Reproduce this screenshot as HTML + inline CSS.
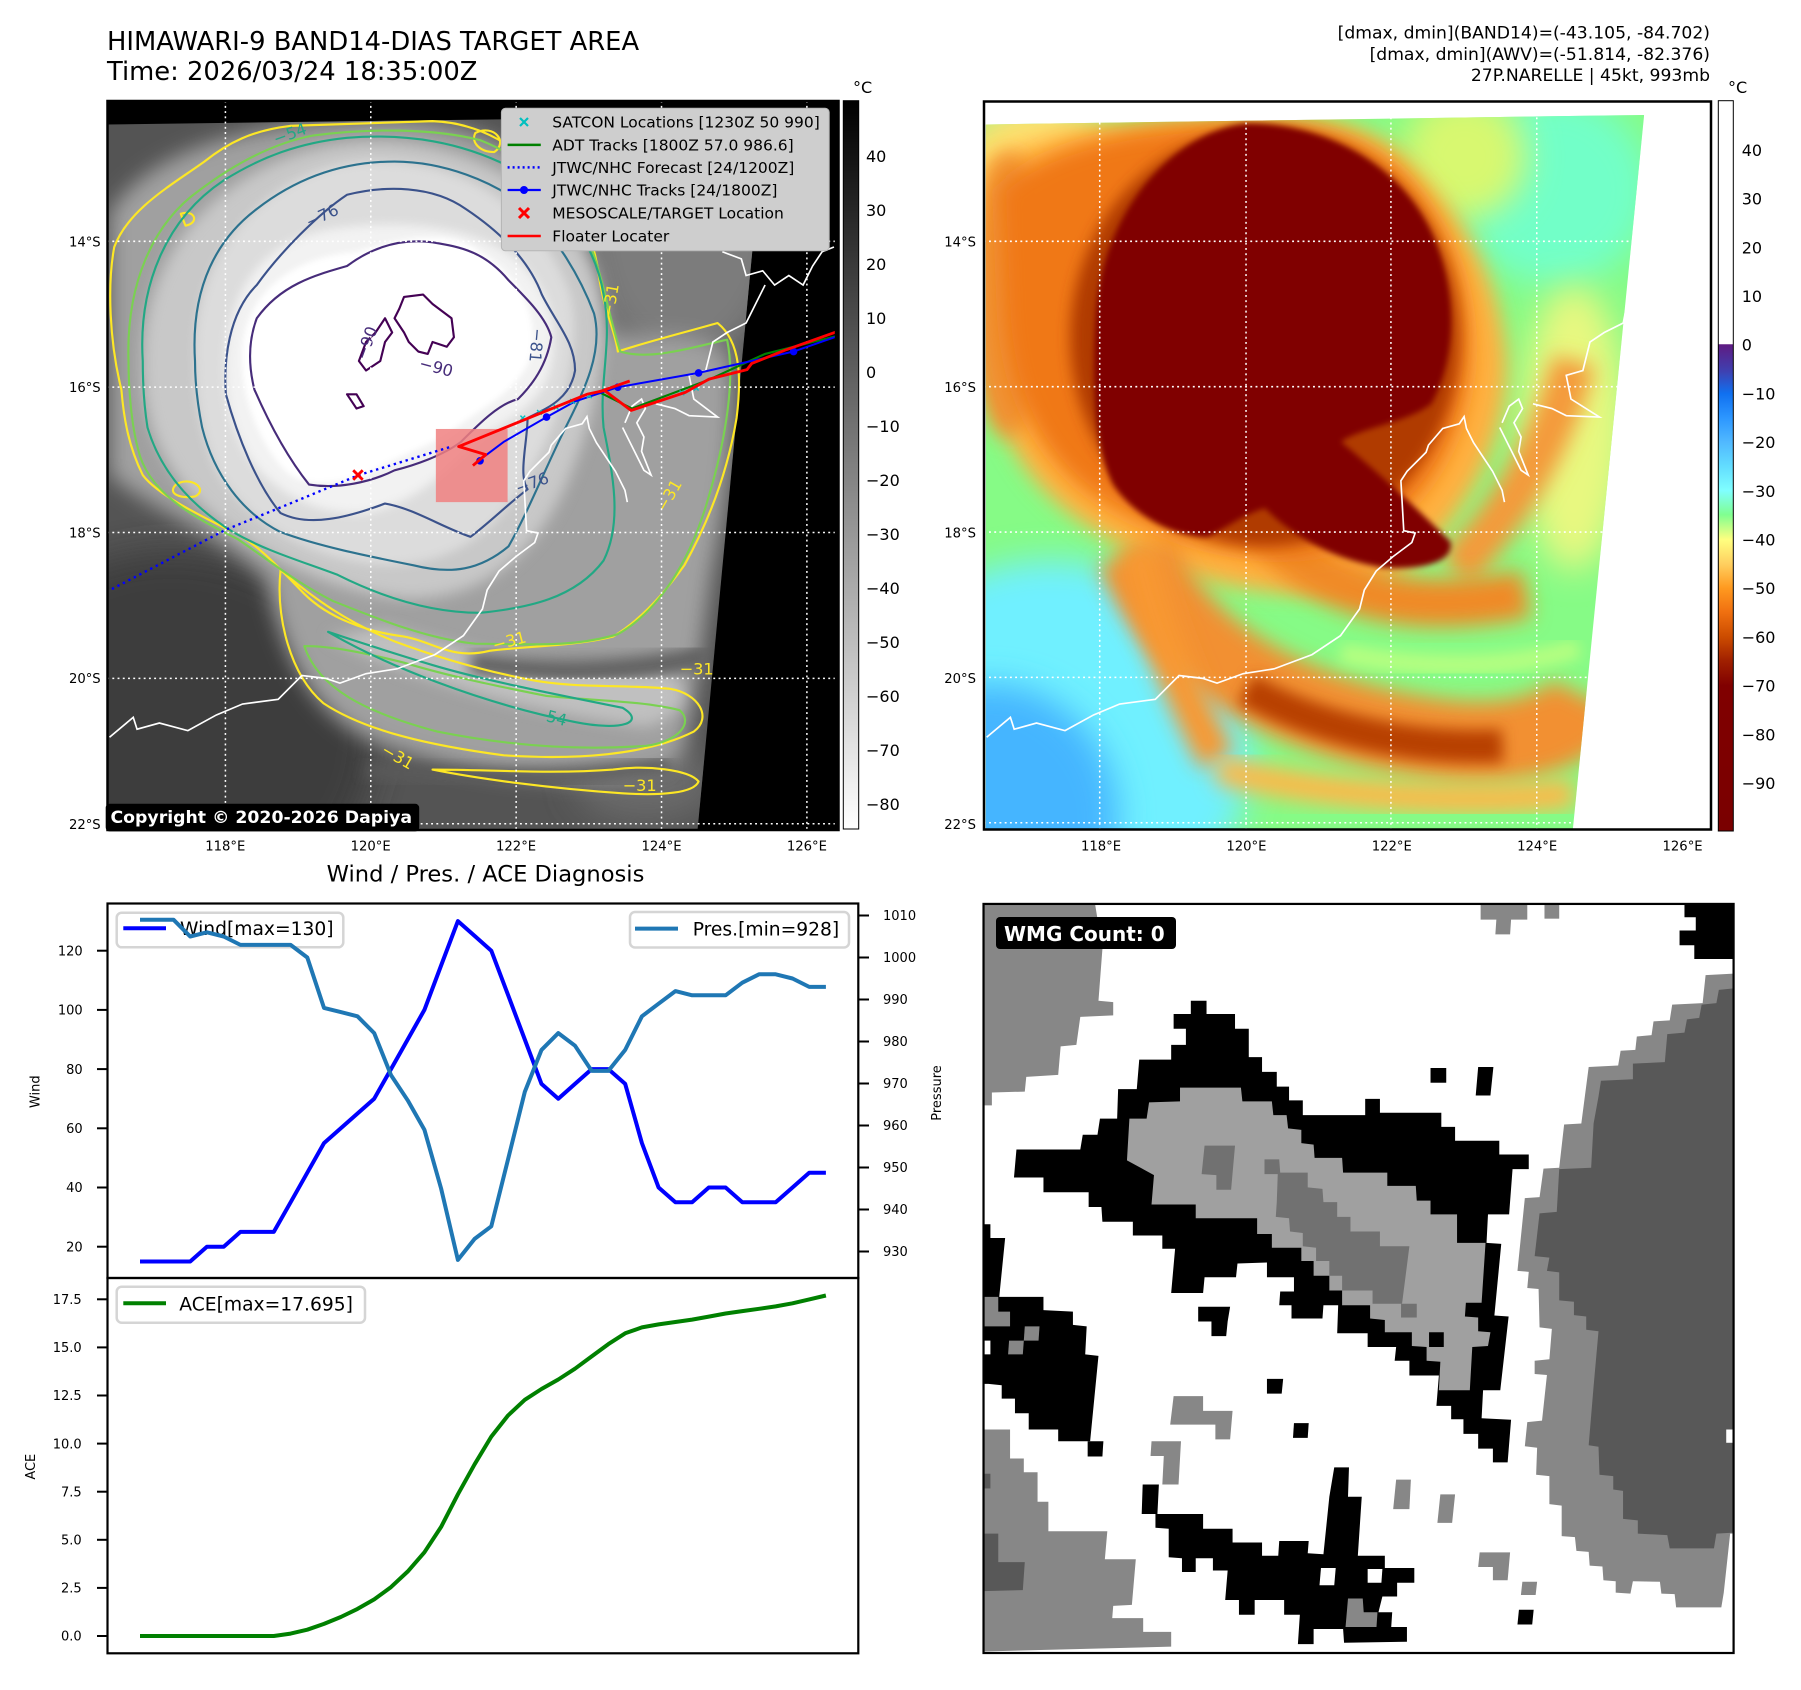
<!DOCTYPE html>
<html><head><meta charset="utf-8"><style>
html,body{margin:0;padding:0;background:#fff;}
svg{display:block;}
text{font-family:"DejaVu Sans","Liberation Sans",sans-serif;}
</style></head><body>
<svg width="1801" height="1690" viewBox="0 0 1801 1690" xmlns="http://www.w3.org/2000/svg">
<defs>
<filter id="f6" x="-50%" y="-50%" width="200%" height="200%"><feGaussianBlur stdDeviation="6"/></filter>
<filter id="f10" x="-50%" y="-50%" width="200%" height="200%"><feGaussianBlur stdDeviation="10"/></filter>
<filter id="f15" x="-50%" y="-50%" width="200%" height="200%"><feGaussianBlur stdDeviation="15"/></filter>
<filter id="f22" x="-50%" y="-50%" width="200%" height="200%"><feGaussianBlur stdDeviation="22"/></filter>
<filter id="f35" x="-50%" y="-50%" width="200%" height="200%"><feGaussianBlur stdDeviation="35"/></filter>
<linearGradient id="cb1" x1="0" y1="0" x2="0" y2="1"><stop offset="0" stop-color="#000"/><stop offset="1" stop-color="#fff"/></linearGradient>
<linearGradient id="cb2" x1="0" y1="0" x2="0" y2="1">
<stop offset="0" stop-color="#fff"/><stop offset="0.333" stop-color="#fff"/><stop offset="0.334" stop-color="#5f1b82"/><stop offset="0.37" stop-color="#3f40b0"/><stop offset="0.401" stop-color="#1070f0"/><stop offset="0.434" stop-color="#2c96ff"/><stop offset="0.467" stop-color="#50b8ff"/><stop offset="0.50" stop-color="#62dcff"/><stop offset="0.534" stop-color="#80ffff"/><stop offset="0.567" stop-color="#80ff90"/><stop offset="0.601" stop-color="#ffff80"/><stop offset="0.634" stop-color="#ffd060"/><stop offset="0.667" stop-color="#ff9a20"/><stop offset="0.70" stop-color="#f07010"/><stop offset="0.734" stop-color="#cc4c00"/><stop offset="0.767" stop-color="#a02000"/><stop offset="0.801" stop-color="#800000"/><stop offset="1" stop-color="#7a0000"/>
</linearGradient>
<clipPath id="ax1"><rect x="14.7" y="12" width="1532" height="1533"/></clipPath>
<clipPath id="img1"><polygon points="16.8,62 1400,44 1258,1545 16.8,1545"/></clipPath>
<clipPath id="ax2"><rect x="8" y="14" width="1530" height="1531"/></clipPath>
<clipPath id="img2"><polygon points="12,62 1398,42 1248,1545 12,1545"/></clipPath>
</defs>
<rect x="0" y="0" width="1801" height="1690" fill="#fff"/>

<!-- Titles -->
<text x="107" y="50" font-size="25.8" fill="#000">HIMAWARI-9 BAND14-DIAS TARGET AREA</text>
<text x="107" y="80" font-size="25.8" fill="#000">Time: 2026/03/24 18:35:00Z</text>
<text x="1710" y="38.5" font-size="17.2" text-anchor="end">[dmax, dmin](BAND14)=(-43.105, -84.702)</text>
<text x="1710" y="60" font-size="17.2" text-anchor="end">[dmax, dmin](AWV)=(-51.814, -82.376)</text>
<text x="1710" y="81" font-size="17.2" text-anchor="end">27P.NARELLE | 45kt, 993mb</text>

<!-- ================= MAP 1 ================= -->
<rect x="107.5" y="101" width="731" height="729" fill="#000"/>
<g transform="translate(100,95) scale(0.47506)">
<g clip-path="url(#ax1)">
<g clip-path="url(#img1)">
<rect x="0" y="0" width="1600" height="1600" fill="#545454"/>
<ellipse cx="150" cy="1350" rx="430" ry="390" fill="#3c3c3c" filter="url(#f35)"/>
<ellipse cx="1230" cy="290" rx="210" ry="280" fill="#7c7c7c" filter="url(#f35)"/>
<ellipse cx="1150" cy="1450" rx="150" ry="80" fill="#6a6a6a" filter="url(#f35)"/>
<path d="M 20,250 C 100,120 300,55 600,50 C 800,50 930,130 1000,250 C 1040,330 1050,420 1080,500 C 1150,520 1280,480 1330,560 C 1340,700 1320,850 1290,1000 C 1260,1200 1250,1330 1220,1400 C 1100,1470 800,1440 600,1370 C 430,1310 380,1150 350,1020 C 250,920 100,870 20,800 Z" fill="#a0a0a0" filter="url(#f22)"/>
<path d="M 480,1140 C 650,1230 900,1300 1150,1330 C 1240,1300 1250,1250 1200,1220 C 1000,1220 800,1180 600,1120 Z" fill="#c0c0c0" filter="url(#f15)"/>
<path d="M 90,560 C 90,300 300,110 560,100 C 800,95 980,220 1040,380 C 1080,500 1050,650 990,800 C 930,950 820,1060 650,1060 C 480,1050 300,950 200,850 C 120,760 90,680 90,560 Z" fill="#c8c8c8" filter="url(#f15)"/>
<path d="M 780,1195 C 950,1220 1100,1220 1280,1180" fill="none" stroke="#5e5e5e" stroke-width="45" filter="url(#f15)"/>
<path d="M 560,1420 C 800,1450 1000,1440 1200,1410" fill="none" stroke="#5a5a5a" stroke-width="35" filter="url(#f15)"/>
<path d="M 200,560 C 190,330 360,150 560,140 C 780,135 930,250 990,420 C 1020,550 960,700 900,800 C 840,920 740,990 600,990 C 450,980 300,900 240,780 C 210,700 200,640 200,560 Z" fill="#dcdcdc" filter="url(#f10)"/>
<path d="M 265,620 C 250,420 340,300 500,280 C 650,260 800,280 880,350 C 960,420 970,520 940,600 C 900,680 820,700 780,740 C 720,800 660,860 560,880 C 450,890 340,820 300,740 C 275,690 268,660 265,620 Z" fill="#f2f2f2" filter="url(#f10)"/>
<path d="M 300,520 C 320,400 420,340 540,330 C 640,300 740,280 800,330 C 880,380 920,450 910,540 C 890,620 800,660 750,700 C 700,740 620,760 560,800 C 480,820 420,830 380,780 C 330,720 290,620 300,520 Z" fill="#fff" filter="url(#f6)"/>
</g>
<!-- contours -->
<g fill="none" stroke-width="4.5" stroke-linejoin="round">
<path stroke="#fde725" d="M 45,620 C 20,520 15,400 30,320 C 60,240 150,190 220,140 C 270,100 320,75 400,65 L 700,55 C 800,58 880,110 950,180 C 1010,240 1040,300 1050,380 C 1060,450 1085,500 1090,540 C 1150,520 1230,500 1300,480 C 1350,520 1350,600 1340,680 C 1320,800 1280,900 1230,990 C 1180,1060 1130,1110 1080,1140 C 1000,1160 900,1160 820,1170 C 740,1190 700,1150 640,1140 C 560,1130 480,1100 430,1050 C 380,1000 340,950 280,920 C 200,880 120,840 90,800 C 60,740 50,680 45,620 Z"/>
<path stroke="#fde725" d="M 380,1000 C 370,1100 400,1220 470,1280 C 560,1340 700,1370 850,1390 C 1000,1400 1150,1390 1250,1340 C 1290,1310 1260,1260 1200,1250 C 1100,1240 1000,1250 900,1230 C 800,1210 700,1180 620,1150 C 520,1110 450,1060 380,1000 Z"/>
<path stroke="#fde725" d="M 700,1420 C 800,1440 950,1460 1100,1470 C 1180,1475 1250,1470 1260,1445 C 1240,1420 1150,1410 1080,1420 C 950,1430 820,1420 700,1420 Z"/>
<path stroke="#fde725" d="M 160,820 C 190,800 230,830 200,845 C 170,850 140,840 160,820 Z M 170,250 C 200,240 210,270 180,275 Z M 790,80 C 830,60 860,100 830,120 C 800,120 780,100 790,80 Z"/>
<path stroke="#7ad151" d="M 60,560 C 55,400 110,270 210,200 C 290,140 370,100 450,85 C 570,70 700,70 800,95 C 900,135 990,210 1030,310 C 1060,390 1070,460 1095,540 C 1160,560 1250,530 1320,515 C 1340,610 1310,750 1280,850 C 1240,990 1170,1090 1090,1135 C 990,1165 890,1155 790,1155 C 690,1145 590,1105 490,1065 C 410,1025 350,975 290,935 C 190,885 100,835 80,745 C 65,690 60,610 60,560 Z"/>
<path stroke="#7ad151" d="M 430,1160 C 460,1250 560,1300 710,1340 C 860,1370 1010,1380 1150,1370 C 1220,1360 1250,1320 1220,1295 C 1140,1275 1040,1275 940,1265 C 840,1245 740,1225 640,1195 C 560,1175 490,1160 430,1160 Z"/>
<path stroke="#22a884" d="M 90,560 C 80,400 140,260 260,180 C 340,130 420,100 520,90 C 650,80 760,100 860,150 C 960,210 1040,300 1060,420 C 1080,520 1050,600 1060,700 C 1080,800 1100,900 1060,980 C 1000,1060 900,1080 800,1090 C 700,1090 600,1060 500,1010 C 420,980 350,960 280,920 C 200,870 130,800 100,700 C 92,650 90,600 90,560 Z"/>
<path stroke="#22a884" d="M 480,1130 C 600,1200 800,1280 1000,1320 C 1100,1340 1150,1320 1100,1290 C 950,1260 800,1230 700,1200 C 600,1170 540,1150 480,1130 Z"/>
<path stroke="#2c728e" d="M 200,560 C 190,400 250,300 330,240 C 420,170 520,140 620,140 C 720,140 830,180 900,240 C 960,300 1010,380 1040,460 C 1060,540 1020,620 980,700 C 940,780 900,880 860,950 C 800,1000 740,1010 660,990 C 560,970 460,950 380,920 C 300,880 240,800 215,700 C 205,650 200,600 200,560 Z"/>
<path stroke="#3b528b" d="M 265,630 C 260,560 270,460 330,400 C 380,330 460,250 520,210 C 600,190 700,190 770,240 C 830,280 900,340 930,420 C 960,480 1000,520 1000,580 C 990,640 940,660 900,680 C 900,730 880,800 900,830 C 860,860 820,900 780,930 C 720,910 660,870 600,860 C 520,890 440,910 380,880 C 330,820 290,720 265,630 Z"/>
<path stroke="#472c7a" d="M 330,470 C 380,400 450,380 520,360 C 560,330 620,300 700,310 C 760,320 810,330 860,390 C 900,430 940,470 950,510 C 940,570 910,610 880,640 C 840,650 800,690 760,730 C 720,760 660,780 620,790 C 570,815 500,830 440,820 C 400,770 360,700 325,620 C 310,560 315,510 330,470 Z"/>
<path stroke="#440154" d="M 640,425 L 680,420 700,440 740,470 745,510 730,530 700,520 690,545 670,540 650,520 640,500 620,470 630,450 Z M 600,470 L 615,500 600,520 590,560 560,580 545,560 560,520 580,500 Z M 520,630 L 540,630 555,655 540,660 Z"/>
</g>
<g font-size="34" font-family="DejaVu Sans, sans-serif">
<text x="370" y="105" fill="#22a884" transform="rotate(-20 370 105)">−54</text>
<text x="440" y="280" fill="#3b528b" transform="rotate(-25 440 280)">−76</text>
<text x="670" y="575" fill="#472c7a" transform="rotate(15 670 575)">−90</text>
<text x="560" y="560" fill="#472c7a" transform="rotate(-70 560 560)">−90</text>
<text x="910" y="490" fill="#3b528b" transform="rotate(95 910 490)">−81</text>
<text x="1080" y="470" fill="#fde725" transform="rotate(-80 1080 470)">−31</text>
<text x="1190" y="880" fill="#fde725" transform="rotate(-60 1190 880)">−31</text>
<text x="830" y="1170" fill="#fde725" transform="rotate(-15 830 1170)">−31</text>
<text x="1220" y="1220" fill="#fde725">−31</text>
<text x="910" y="1310" fill="#22a884" transform="rotate(15 910 1310)">−54</text>
<text x="590" y="1385" fill="#fde725" transform="rotate(30 590 1385)">−31</text>
<text x="1100" y="1465" fill="#fde725">−31</text>
<text x="880" y="840" fill="#3b528b" transform="rotate(-20 880 840)">−76</text>
</g>
<!-- coastline -->
<g fill="none" stroke="#fff" stroke-width="3.5">
<polyline points="20,1352 70,1310 78,1335 125,1322 185,1338 245,1305 300,1282 375,1272 425,1222 475,1228 505,1238 560,1218 625,1208 705,1178 765,1138 805,1082 815,1042 840,1002 875,972 915,942 922,922 898,917 892,812 905,792 945,752 950,737 980,702 1015,692 1025,677 1030,702 1045,732 1065,762 1085,792 1105,832 1110,857"/>
<polyline points="1105,690 1120,655 1140,640 1148,660 1130,690 1145,720 1140,750 1160,800 1145,790 1120,740 1100,700"/>
<polyline points="1170,650 1210,660 1240,675 1300,678 1250,640 1240,590 1275,580 1290,520 1320,500 1360,480 1380,440 1400,400"/>
<polyline points="1310,330 1350,345 1360,380 1395,370 1420,400 1450,380 1480,400 1500,360 1520,330 1545,320"/>
</g>
<!-- gridlines -->
<g stroke="#fff" stroke-width="3.2" stroke-dasharray="4 7">
<line x1="264" y1="12" x2="264" y2="1545"/><line x1="570" y1="12" x2="570" y2="1545"/><line x1="876" y1="12" x2="876" y2="1545"/><line x1="1182" y1="12" x2="1182" y2="1545"/><line x1="1488" y1="12" x2="1488" y2="1545"/>
<line x1="15" y1="308" x2="1547" y2="308"/><line x1="15" y1="615" x2="1547" y2="615"/><line x1="15" y1="921" x2="1547" y2="921"/><line x1="15" y1="1228" x2="1547" y2="1228"/><line x1="15" y1="1534" x2="1547" y2="1534"/>
</g>
<!-- pink target rect -->
<rect x="707" y="703" width="151" height="154" fill="#f08080" opacity="0.85"/>
<!-- tracks -->
<polyline points="25,1040 265,915 400,860 545,800 740,740" fill="none" stroke="#0000ff" stroke-width="5" stroke-dasharray="5 8"/>
<polyline points="1050,625 1120,660 1200,630 1280,600 1400,545 1560,505" fill="none" stroke="#008000" stroke-width="4.5"/>
<polyline points="790,775 850,730 940,678 1000,645 1090,615 1260,585 1460,540 1560,505" fill="none" stroke="#0000ff" stroke-width="4.2"/>
<g fill="#0000ff"><circle cx="800" cy="770" r="8"/><circle cx="940" cy="678" r="8"/><circle cx="1090" cy="615" r="8"/><circle cx="1260" cy="585" r="8"/><circle cx="1460" cy="540" r="8"/></g>
<g stroke="#00bfbf" stroke-width="3">
<path d="M 885,675 l 10,10 m 0,-10 l -10,10 M 920,663 l 10,10 m 0,-10 l -10,10 M 955,652 l 10,10 m 0,-10 l -10,10 M 990,640 l 10,10 m 0,-10 l -10,10 M 1025,628 l 10,10 m 0,-10 l -10,10 M 1220,622 l 10,10 m 0,-10 l -10,10 M 1250,612 l 10,10 m 0,-10 l -10,10"/>
</g>
<polyline points="785,780 812,757 755,740 1025,630 1062,622 1118,664 1232,626 1282,598 1362,578 1372,565 1415,548 1440,538 1560,495" fill="none" stroke="#ff0000" stroke-width="6" stroke-linejoin="round"/>
<line x1="1050" y1="625" x2="1115" y2="602" stroke="#ff0000" stroke-width="6"/>
<path d="M 533,790 l 20,20 m 0,-20 l -20,20" stroke="#ff0000" stroke-width="6"/>
</g>
</g>
<rect x="107.5" y="101" width="731" height="729" fill="none" stroke="#000" stroke-width="2.5"/>
<!-- legend map1 -->
<rect x="501.4" y="108.3" width="327.8" height="142.5" rx="4" fill="#cecece" stroke="#b5b5b5" stroke-width="1"/>
<path d="M 520,118 l 8,8 m 0,-8 l -8,8" stroke="#00bfbf" stroke-width="2.2"/>
<line x1="507.6" y1="144.9" x2="540.8" y2="144.9" stroke="#008000" stroke-width="2.5"/>
<line x1="507.6" y1="167.4" x2="540.8" y2="167.4" stroke="#0000ff" stroke-width="2.5" stroke-dasharray="2 3"/>
<line x1="507.6" y1="190" x2="540.8" y2="190" stroke="#0000ff" stroke-width="2.2"/><circle cx="524" cy="190" r="4" fill="#0000ff"/>
<path d="M 519,208 l 10,10 m 0,-10 l -10,10" stroke="#ff0000" stroke-width="3"/>
<line x1="507.6" y1="236" x2="540.8" y2="236" stroke="#ff0000" stroke-width="2.5"/>
<g font-size="15.5" fill="#000">
<text x="552.3" y="127.6">SATCON Locations [1230Z 50 990]</text>
<text x="552.3" y="150.4">ADT Tracks [1800Z 57.0 986.6]</text>
<text x="552.3" y="172.9">JTWC/NHC Forecast [24/1200Z]</text>
<text x="552.3" y="195.5">JTWC/NHC Tracks [24/1800Z]</text>
<text x="552.3" y="218.3">MESOSCALE/TARGET Location</text>
<text x="552.3" y="241.6">Floater Locater</text>
</g>
<!-- copyright -->
<rect x="105.7" y="803.8" width="313.5" height="27.6" rx="4" fill="#000"/>
<text x="110.5" y="823.2" font-size="17.3" font-weight="bold" fill="#fff">Copyright © 2020-2026 Dapiya</text>
<!-- map ticks -->
<g font-size="13.2" fill="#000" text-anchor="end">
<text x="100.7" y="246.4">14°S</text><text x="100.7" y="392">16°S</text><text x="100.7" y="537.6">18°S</text><text x="100.7" y="683.2">20°S</text><text x="100.7" y="828.8">22°S</text>
<text x="976" y="246.4">14°S</text><text x="976" y="392">16°S</text><text x="976" y="537.6">18°S</text><text x="976" y="683.2">20°S</text><text x="976" y="828.8">22°S</text>
</g>
<g font-size="13.2" fill="#000" text-anchor="middle">
<text x="225.3" y="850.7">118°E</text><text x="370.7" y="850.7">120°E</text><text x="516.1" y="850.7">122°E</text><text x="661.5" y="850.7">124°E</text><text x="806.9" y="850.7">126°E</text>
<text x="1101" y="850.7">118°E</text><text x="1246.4" y="850.7">120°E</text><text x="1391.8" y="850.7">122°E</text><text x="1537.2" y="850.7">124°E</text><text x="1682.6" y="850.7">126°E</text>
</g>
<!-- colorbar 1 -->
<rect x="843.3" y="100.7" width="15.4" height="728.3" fill="url(#cb1)" stroke="#000" stroke-width="1"/>
<text x="853" y="93" font-size="16">°C</text>
<g font-size="16" fill="#000">
<text x="866" y="161.8">40</text><text x="866" y="215.8">30</text><text x="866" y="269.8">20</text><text x="866" y="323.8">10</text><text x="866" y="377.8">0</text>
<text x="866" y="431.8">−10</text><text x="866" y="485.8">−20</text><text x="866" y="539.8">−30</text><text x="866" y="593.8">−40</text><text x="866" y="647.8">−50</text><text x="866" y="701.8">−60</text><text x="866" y="755.8">−70</text><text x="866" y="809.8">−80</text>
</g>

<!-- ================= MAP 2 ================= -->
<rect x="984" y="101.5" width="727" height="728" fill="#fff"/>
<g transform="translate(980,95) scale(0.47506)">
<g clip-path="url(#ax2)">
<g clip-path="url(#img2)">
<rect x="0" y="0" width="1600" height="1600" fill="#86fb86"/>
<ellipse cx="150" cy="1380" rx="420" ry="400" fill="#6ff0ff" filter="url(#f35)"/>
<ellipse cx="20" cy="1520" rx="270" ry="280" fill="#45b5ff" filter="url(#f35)"/>
<ellipse cx="1210" cy="200" rx="200" ry="200" fill="#72ffc8" filter="url(#f35)"/>
<ellipse cx="1250" cy="700" rx="110" ry="300" fill="#e8f880" filter="url(#f35)"/>
<ellipse cx="120" cy="230" rx="200" ry="220" fill="#ffe070" filter="url(#f35)"/>
<ellipse cx="1020" cy="130" rx="130" ry="130" fill="#d8f870" filter="url(#f35)"/>
<path d="M 12,150 C 150,60 400,40 600,45 C 760,45 860,80 920,160 C 1040,280 1100,420 1110,560 C 1110,760 1000,900 900,1000 C 750,1080 500,1060 300,950 C 100,850 12,700 12,500 Z" fill="#ffb040" filter="url(#f22)"/>
<ellipse cx="60" cy="420" rx="80" ry="300" fill="#f09030" filter="url(#f22)"/>
<path d="M 330,960 C 420,1200 700,1330 1000,1360 C 1150,1370 1250,1330 1280,1270" fill="none" stroke="#f29030" stroke-width="170" filter="url(#f22)"/>
<path d="M 330,950 C 360,1100 420,1250 500,1400" fill="none" stroke="#f89830" stroke-width="80" filter="url(#f22)"/>
<path d="M 500,1420 C 700,1470 1000,1500 1250,1470" fill="none" stroke="#ffb848" stroke-width="60" filter="url(#f22)"/>
<path d="M 760,1175 C 900,1205 1100,1215 1260,1165" fill="none" stroke="#b8ff80" stroke-width="40" filter="url(#f15)"/>
<path d="M 560,1250 C 700,1330 900,1380 1100,1370" fill="none" stroke="#b84000" stroke-width="70" filter="url(#f15)"/>
<path d="M 1000,1000 C 1100,900 1200,750 1250,560" fill="none" stroke="#f49a3a" stroke-width="90" filter="url(#f22)"/>
<path d="M 600,900 C 700,1050 900,1100 1150,1050" fill="none" stroke="#f08a28" stroke-width="100" filter="url(#f22)"/>
<path d="M 40,200 C 150,90 380,60 580,60 C 740,60 850,110 920,200 C 1010,320 1040,450 1030,580 C 1010,760 920,880 800,940 C 640,1000 450,960 300,880 C 140,800 60,650 50,460 Z" fill="#f07818" filter="url(#f22)"/>
<ellipse cx="600" cy="510" rx="410" ry="440" fill="#b03a00" filter="url(#f15)"/>
<path d="M 560,60 C 720,60 880,140 950,290 C 1010,420 1000,560 950,650 C 900,690 800,700 760,730 C 820,780 900,850 990,940 C 1000,980 940,1000 850,995 C 750,980 660,930 600,870 C 560,880 520,910 480,930 C 400,930 320,880 280,820 C 240,740 235,600 245,450 C 260,250 400,80 560,60 Z" fill="#800000" filter="url(#f6)"/>
</g>
<g fill="none" stroke="#fff" stroke-width="3.5">
<polyline points="14,1352 64,1310 72,1335 119,1322 179,1338 239,1305 294,1282 369,1272 419,1222 469,1228 499,1238 554,1218 619,1208 699,1178 759,1138 799,1082 809,1042 834,1002 869,972 909,942 916,922 892,917 886,812 899,792 939,752 944,737 974,702 1009,692 1019,677 1024,702 1039,732 1059,762 1079,792 1099,832 1104,857"/>
<polyline points="1099,690 1114,655 1134,640 1142,660 1124,690 1139,720 1134,750 1154,800 1139,790 1114,740 1094,700"/>
<polyline points="1164,650 1204,660 1234,675 1304,678 1244,640 1234,590 1269,580 1284,520 1314,500 1354,480 1370,400"/>
</g>
<g stroke="#fff" stroke-width="3.2" stroke-dasharray="4 7">
<line x1="252" y1="14" x2="252" y2="1545"/><line x1="560" y1="14" x2="560" y2="1545"/><line x1="865" y1="14" x2="865" y2="1545"/><line x1="1172" y1="14" x2="1172" y2="1545"/>
<line x1="8" y1="308" x2="1538" y2="308"/><line x1="8" y1="614" x2="1538" y2="614"/><line x1="8" y1="920" x2="1538" y2="920"/><line x1="8" y1="1226" x2="1538" y2="1226"/><line x1="8" y1="1532" x2="1538" y2="1532"/>
</g>
</g>
</g>
<rect x="984" y="101.5" width="727" height="728" fill="none" stroke="#000" stroke-width="2.5"/>
<!-- colorbar 2 -->
<rect x="1718.3" y="100.7" width="15" height="730.3" fill="url(#cb2)" stroke="#000" stroke-width="1"/>
<text x="1728" y="93" font-size="16">°C</text>
<g font-size="16" fill="#000">
<text x="1741.7" y="155.9">40</text><text x="1741.7" y="204.6">30</text><text x="1741.7" y="253.3">20</text><text x="1741.7" y="302">10</text><text x="1741.7" y="350.7">0</text>
<text x="1741.7" y="399.4">−10</text><text x="1741.7" y="448.1">−20</text><text x="1741.7" y="496.8">−30</text><text x="1741.7" y="545.5">−40</text><text x="1741.7" y="594.2">−50</text><text x="1741.7" y="642.9">−60</text><text x="1741.7" y="691.6">−70</text><text x="1741.7" y="740.3">−80</text><text x="1741.7" y="789">−90</text>
</g>

<!-- ================= CHARTS ================= -->
<text x="485.5" y="881.5" font-size="22.6" text-anchor="middle">Wind / Pres. / ACE Diagnosis</text>
<polyline fill="none" stroke="#0000ff" stroke-width="4" stroke-linejoin="round" points="140,1261.5 156.7,1261.5 173.5,1261.5 190.2,1261.5 206.9,1246.7 223.7,1246.7 240.4,1231.9 257.1,1231.9 273.8,1231.9 290.6,1202.3 307.3,1172.7 324,1143.1 340.8,1128.3 357.5,1113.5 374.2,1098.7 391,1069.1 407.7,1039.5 424.4,1009.9 441.1,965.5 457.9,921.1 474.6,935.9 491.3,950.7 508.1,995.1 524.8,1039.5 541.5,1083.9 558.3,1098.7 575,1083.9 591.7,1069.1 608.4,1069.1 625.2,1083.9 641.9,1143.1 658.6,1187.5 675.4,1202.3 692.1,1202.3 708.8,1187.5 725.6,1187.5 742.3,1202.3 759,1202.3 775.7,1202.3 792.5,1187.5 809.2,1172.7 825.9,1172.7"/>
<rect x="116.7" y="912.7" width="226.6" height="34.6" rx="5" fill="#fff" stroke="#d5d5d5" stroke-width="2.5"/>
<line x1="123.3" y1="928.3" x2="166" y2="928.3" stroke="#0000ff" stroke-width="4"/>
<text x="180" y="935" font-size="18.7">Wind[max=130]</text>
<polyline fill="none" stroke="#1f77b4" stroke-width="4" stroke-linejoin="round" points="140,919.7 156.7,919.7 173.5,919.7 190.2,936.5 206.9,932.3 223.7,936.5 240.4,944.9 257.1,944.9 273.8,944.9 290.6,944.9 307.3,957.5 324,1007.9 340.8,1012.1 357.5,1016.3 374.2,1033.1 391,1075.1 407.7,1100.3 424.4,1129.7 441.1,1188.5 457.9,1259.9 474.6,1238.9 491.3,1226.3 508.1,1159.1 524.8,1091.9 541.5,1049.9 558.3,1033.1 575,1045.7 591.7,1070.9 608.4,1070.9 625.2,1049.9 641.9,1016.3 658.6,1003.7 675.4,991.1 692.1,995.3 708.8,995.3 725.6,995.3 742.3,982.7 759,974.3 775.7,974.3 792.5,978.5 809.2,986.9 825.9,986.9"/>
<rect x="630" y="912" width="219" height="35.5" rx="5" fill="#fff" stroke="#d5d5d5" stroke-width="2.5"/>
<line x1="635" y1="928.6" x2="678" y2="928.6" stroke="#1f77b4" stroke-width="4"/>
<text x="692.7" y="935.4" font-size="18.7">Pres.[min=928]</text>
<rect x="107.5" y="903.5" width="750.8" height="374.5" fill="none" stroke="#000" stroke-width="2.2"/>
<g stroke="#000" stroke-width="2">
<line x1="97" y1="950.7" x2="107.5" y2="950.7"/><line x1="97" y1="1009.9" x2="107.5" y2="1009.9"/><line x1="97" y1="1069.1" x2="107.5" y2="1069.1"/><line x1="97" y1="1128.3" x2="107.5" y2="1128.3"/><line x1="97" y1="1187.5" x2="107.5" y2="1187.5"/><line x1="97" y1="1246.7" x2="107.5" y2="1246.7"/>
<line x1="858.3" y1="915.5" x2="869" y2="915.5"/><line x1="858.3" y1="957.5" x2="869" y2="957.5"/><line x1="858.3" y1="999.5" x2="869" y2="999.5"/><line x1="858.3" y1="1041.5" x2="869" y2="1041.5"/><line x1="858.3" y1="1083.5" x2="869" y2="1083.5"/><line x1="858.3" y1="1125.5" x2="869" y2="1125.5"/><line x1="858.3" y1="1167.5" x2="869" y2="1167.5"/><line x1="858.3" y1="1209.5" x2="869" y2="1209.5"/><line x1="858.3" y1="1251.5" x2="869" y2="1251.5"/>
<line x1="97" y1="1299.3" x2="107.5" y2="1299.3"/><line x1="97" y1="1347.4" x2="107.5" y2="1347.4"/><line x1="97" y1="1395.5" x2="107.5" y2="1395.5"/><line x1="97" y1="1443.6" x2="107.5" y2="1443.6"/><line x1="97" y1="1491.7" x2="107.5" y2="1491.7"/><line x1="97" y1="1539.8" x2="107.5" y2="1539.8"/><line x1="97" y1="1587.9" x2="107.5" y2="1587.9"/><line x1="97" y1="1636" x2="107.5" y2="1636"/>
</g>
<g font-size="13" text-anchor="end">
<text x="82.7" y="955.4">120</text><text x="82.7" y="1014.6">100</text><text x="82.7" y="1073.8">80</text><text x="82.7" y="1133">60</text><text x="82.7" y="1192.2">40</text><text x="82.7" y="1251.4">20</text>
<text x="81.7" y="1304">17.5</text><text x="81.7" y="1352.1">15.0</text><text x="81.7" y="1400.2">12.5</text><text x="81.7" y="1448.3">10.0</text><text x="81.7" y="1496.4">7.5</text><text x="81.7" y="1544.5">5.0</text><text x="81.7" y="1592.6">2.5</text><text x="81.7" y="1640.7">0.0</text>
</g>
<g font-size="13">
<text x="883" y="920.2">1010</text><text x="883" y="962.2">1000</text><text x="883" y="1004.2">990</text><text x="883" y="1046.2">980</text><text x="883" y="1088.2">970</text><text x="883" y="1130.2">960</text><text x="883" y="1172.2">950</text><text x="883" y="1214.2">940</text><text x="883" y="1256.2">930</text>
</g>
<text transform="translate(39.5,1091.7) rotate(-90)" font-size="13" text-anchor="middle">Wind</text>
<text transform="translate(35,1466.7) rotate(-90)" font-size="13" text-anchor="middle">ACE</text>
<text transform="translate(941,1093) rotate(-90)" font-size="13" text-anchor="middle">Pressure</text>
<polyline fill="none" stroke="#008000" stroke-width="4" stroke-linejoin="round" points="140,1636 156.7,1636 173.5,1636 190.2,1636 206.9,1636 223.7,1636 240.4,1636 257.1,1636 273.8,1636 290.6,1633.6 307.3,1629.7 324,1623.9 340.8,1617 357.5,1608.9 374.2,1599.4 391,1587.1 407.7,1571.5 424.4,1552.3 441.1,1526.9 457.9,1494.3 474.6,1464.3 491.3,1436.6 508.1,1415.4 524.8,1399.8 541.5,1389 558.3,1379.5 575,1368.7 591.7,1356.4 608.4,1344.1 625.2,1333.3 641.9,1327.4 658.6,1324.4 675.4,1322 692.1,1319.6 708.8,1316.6 725.6,1313.5 742.3,1311.1 759,1308.8 775.7,1306.4 792.5,1303.3 809.2,1299.4 825.9,1295.5"/>
<rect x="116.7" y="1286.7" width="248.3" height="36" rx="5" fill="#fff" stroke="#d5d5d5" stroke-width="2.5"/>
<line x1="123.3" y1="1303.3" x2="166" y2="1303.3" stroke="#008000" stroke-width="4"/>
<text x="179.3" y="1310.3" font-size="18.7">ACE[max=17.695]</text>
<rect x="107.5" y="1278" width="750.8" height="375.3" fill="none" stroke="#000" stroke-width="2.2"/>

<!-- ================= BOTTOM RIGHT ================= -->
<g transform="translate(979.6,900) scale(0.4912)">
<rect x="8" y="8" width="1527" height="1525" fill="#fff"/>
<g fill="#878787">
<polygon points="8,8 235,8 250,100 242,205 272,208 272,235 205,238 197,295 165,298 160,356 95,360 92,390 25,392 25,418 8,418"/>
<polygon points="1020,8 1115,8 1115,40 1082,40 1080,70 1050,70 1052,40 1020,40"/>
<polygon points="1150,8 1180,8 1180,38 1150,38"/>
<polygon points="1535,150 1478,153 1472,210 1410,213 1405,245 1372,247 1368,275 1338,278 1335,305 1305,307 1300,337 1240,340 1225,455 1190,457 1180,545 1148,547 1140,605 1110,607 1095,755 1118,757 1115,790 1138,792 1140,870 1165,873 1160,935 1130,938 1130,965 1155,967 1145,1060 1115,1063 1110,1112 1135,1115 1133,1170 1160,1173 1160,1230 1185,1233 1185,1295 1212,1297 1215,1325 1240,1327 1242,1355 1268,1357 1270,1385 1295,1387 1295,1410 1325,1412 1330,1387 1385,1388 1388,1412 1415,1413 1418,1440 1510,1440 1515,1410 1528,1290 1535,1290"/>
<polygon points="8,1078 62,1078 62,1137 90,1137 90,1165 118,1165 118,1225 140,1225 140,1285 260,1285 255,1342 318,1342 310,1435 272,1437 270,1462 333,1462 333,1490 390,1490 390,1520 8,1530"/>
<polygon points="395,1010 455,1010 455,1040 515,1040 510,1098 480,1098 480,1068 388,1068"/>
<polygon points="350,1102 410,1102 405,1190 372,1190 375,1132 348,1132"/>
<polygon points="848,1180 878,1180 875,1240 842,1240"/>
<polygon points="938,1210 968,1210 962,1268 932,1268"/>
<polygon points="1018,1328 1080,1328 1075,1385 1045,1385 1045,1358 1015,1358"/>
<polygon points="1105,1388 1135,1388 1132,1415 1102,1415"/>
</g>
<g fill="#585858">
<polygon points="1535,180 1505,183 1500,210 1470,213 1465,240 1440,243 1435,270 1400,273 1395,330 1330,333 1330,365 1265,368 1260,400 1250,455 1245,545 1180,548 1175,635 1140,638 1130,725 1160,728 1155,755 1180,758 1180,815 1210,818 1210,845 1235,848 1235,875 1260,878 1250,990 1240,1110 1260,1113 1262,1170 1290,1173 1290,1200 1310,1203 1310,1260 1340,1263 1340,1290 1400,1293 1405,1320 1495,1320 1500,1290 1535,1288"/>
<polygon points="8,1290 38,1290 38,1348 92,1348 88,1405 8,1407"/>
<polygon points="8,1168 22,1168 22,1198 8,1198"/>
</g>
<polygon points="1520,1078 1535,1078 1535,1105 1520,1105" fill="#fff"/>
<g fill="#000">
<polygon points="1435,8 1535,8 1535,120 1455,120 1455,92 1425,92 1425,62 1458,62 1458,35 1435,35"/>
<polygon points="430,205 462,205 462,232 520,232 520,262 548,262 548,320 575,320 575,350 605,350 605,380 630,380 630,408 658,408 658,438 785,438 785,405 815,405 815,433 940,433 940,462 968,462 968,490 1058,490 1058,518 1118,518 1118,548 1085,548 1078,640 1035,640 1032,698 1062,700 1048,846 1077,848 1060,998 1025,998 1022,1055 1082,1058 1075,1145 1045,1145 1045,1117 1015,1117 1015,1087 985,1087 985,1057 960,1057 960,1030 930,1030 935,968 875,968 875,938 845,938 848,910 790,910 790,882 728,882 730,825 700,825 698,852 635,852 635,825 610,825 612,797 640,797 640,768 585,768 585,738 525,740 522,768 458,768 455,800 390,800 398,710 372,710 372,683 312,683 312,655 250,655 248,625 222,625 222,595 130,595 130,565 70,565 75,508 205,508 210,478 240,478 245,445 280,445 282,385 320,385 325,325 390,325 390,295 420,295 420,262 395,262 395,232 430,232"/>
<polygon points="8,660 22,660 22,688 52,688 40,808 130,808 130,835 190,838 190,865 218,868 215,925 242,928 225,1102 160,1102 160,1078 100,1078 100,1045 72,1045 72,1015 45,1015 45,988 18,985 8,985"/>
<polygon points="918,342 950,342 950,372 918,372"/>
<polygon points="1015,340 1046,340 1040,398 1010,398"/>
<polygon points="445,828 510,828 505,858 502,888 472,888 472,858 445,858"/>
<polygon points="585,975 618,975 615,1005 585,1005"/>
<polygon points="640,1065 670,1065 668,1095 638,1095"/>
<polygon points="220,1102 252,1102 250,1133 220,1133"/>
<polygon points="1098,1445 1128,1445 1125,1475 1095,1475"/>
<polygon points="332,1190 365,1190 362,1250 455,1250 455,1280 515,1280 515,1308 575,1308 575,1335 608,1335 610,1305 670,1305 668,1330 700,1332 712,1215 722,1155 752,1155 750,1215 778,1215 770,1335 825,1335 825,1360 885,1360 885,1390 850,1390 850,1418 820,1418 812,1450 840,1450 838,1480 870,1480 870,1510 742,1512 740,1484 680,1484 680,1515 648,1515 652,1455 620,1455 620,1425 560,1425 560,1455 528,1455 528,1425 500,1425 505,1365 475,1365 475,1340 440,1340 440,1368 412,1368 412,1340 385,1338 385,1280 358,1278 358,1250 330,1250"/>
</g>
<g fill="#878787">
<polygon points="8,808 38,808 38,838 62,838 62,868 8,868"/>
<polygon points="92,868 122,868 120,897 90,897"/>
<polygon points="60,897 90,897 88,925 58,925"/>
<polygon points="750,1422 780,1422 782,1450 810,1450 808,1480 745,1480"/>
</g>
<g fill="#fff">
<polygon points="8,897 22,897 22,925 8,925"/>
<polygon points="790,1362 820,1362 818,1390 790,1390"/>
<polygon points="695,1360 725,1360 722,1395 692,1395"/>
</g>
<polygon fill="#a0a0a0" points="408,382 532,382 535,410 595,410 598,438 625,438 628,465 655,468 655,495 680,498 682,525 738,525 740,555 830,555 830,582 888,582 890,612 918,612 918,640 972,640 972,698 1030,698 1022,820 990,820 988,848 1015,850 1015,878 1040,880 1035,908 1003,910 998,998 935,998 938,940 910,938 910,910 880,908 880,880 825,880 825,855 795,852 795,825 738,825 738,795 712,795 712,765 680,765 680,735 655,735 655,708 595,708 595,680 565,680 565,648 440,648 440,620 350,620 355,560 300,530 305,445 340,445 345,412 408,410"/>
<g fill="#717171">
<polygon points="458,500 520,500 512,590 482,590 482,560 452,558"/>
<polygon points="580,528 610,528 612,555 668,555 668,585 698,588 700,615 728,615 728,645 755,645 755,675 815,675 815,705 875,705 860,822 800,822 800,795 738,795 738,765 712,765 712,735 685,735 685,708 658,705 658,678 632,675 630,648 603,645 605,615 607,558 580,558"/>
<polygon points="858,822 890,822 890,850 858,850"/>
</g>
<polygon fill="#000" points="915,880 945,880 945,910 915,910"/>
<rect x="8" y="8" width="1527" height="1525" fill="none" stroke="#000" stroke-width="4.5"/>
</g>
<rect x="996" y="917" width="180" height="32" rx="4" fill="#000"/>
<text x="1004" y="941" font-size="20" font-weight="bold" fill="#fff">WMG Count: 0</text>
</svg>
</body></html>
